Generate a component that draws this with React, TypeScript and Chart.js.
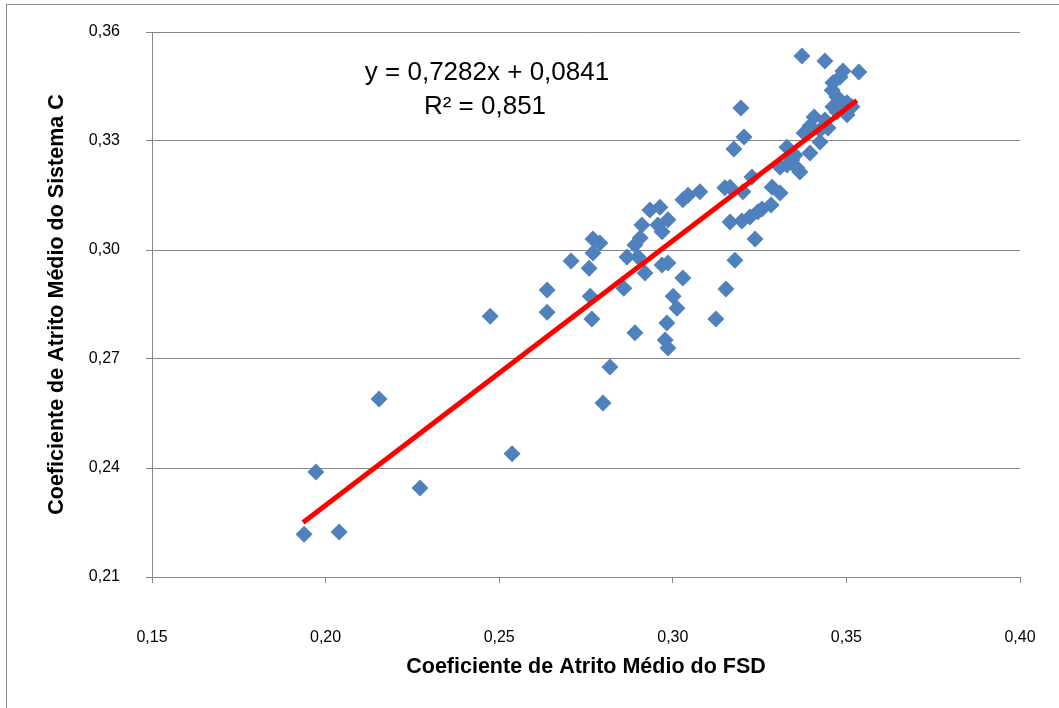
import React, { useEffect, useRef } from "react";
import { Chart, registerables } from "chart.js";

Chart.register(...registerables);

const fsd = [
  0.1938, 0.1972, 0.2039, 0.2154, 0.2272, 0.2474, 0.2537, 0.2638, 0.2638, 0.2707,
  0.2759, 0.277, 0.279, 0.277, 0.2762, 0.2767, 0.2799, 0.2819, 0.2859, 0.2868,
  0.2891, 0.2906, 0.2911, 0.2934, 0.2963, 0.2957, 0.2986, 0.2969, 0.29, 0.292,
  0.2891, 0.2969, 0.2986, 0.3029, 0.3001, 0.3012, 0.2983, 0.2978, 0.2986, 0.3029,
  0.3044, 0.3078, 0.315, 0.3165, 0.3202, 0.3228, 0.3165, 0.3199, 0.3222, 0.3245,
  0.3257, 0.3283, 0.3237, 0.3179, 0.3153, 0.3124, 0.3196, 0.3205, 0.3176, 0.3286,
  0.3309, 0.3329, 0.3343, 0.3358, 0.3329, 0.3366, 0.3309, 0.3352, 0.3378, 0.3395,
  0.3395, 0.3407, 0.3424, 0.3438, 0.3447, 0.3461, 0.3473, 0.3502, 0.3459, 0.3473,
  0.3461, 0.3482, 0.349, 0.3536, 0.3372, 0.3438, 0.3502, 0.3516, 0.3482, 0.3424,
];

const sistemaC = [
  0.2218, 0.2389, 0.2224, 0.259, 0.2345, 0.2818, 0.2439, 0.289, 0.2829, 0.297,
  0.295, 0.303, 0.3019, 0.2992, 0.2873, 0.281, 0.2579, 0.2678, 0.2895, 0.2981,
  0.3014, 0.3033, 0.3069, 0.311, 0.3118, 0.3069, 0.3083, 0.305, 0.2981, 0.2937,
  0.2772, 0.2959, 0.2964, 0.2923, 0.2873, 0.284, 0.2799, 0.2752, 0.273, 0.3138,
  0.3151, 0.316, 0.3171, 0.3173, 0.316, 0.3201, 0.3077, 0.308, 0.3091, 0.3105,
  0.3113, 0.3124, 0.303, 0.2972, 0.2893, 0.281, 0.3391, 0.3311, 0.3278, 0.3173,
  0.3157, 0.3283, 0.3248, 0.3226, 0.3234, 0.3215, 0.3228, 0.3261, 0.3322, 0.3267,
  0.3341, 0.3366, 0.333, 0.3358, 0.3336, 0.3394, 0.338, 0.3372, 0.344, 0.3421,
  0.346, 0.3476, 0.3493, 0.349, 0.3534, 0.352, 0.3405, 0.3394, 0.3407, 0.3297,
];

const trendSlope = 0.7282;
const trendIntercept = 0.0841;
const trendRange = [0.1935, 0.353];
const equationLines = ["y = 0,7282x + 0,0841", "R² = 0,851"];
const xTitle = "Coeficiente de Atrito Médio do FSD";
const yTitle = "Coeficiente de Atrito Médio do Sistema C";

const FONT = "'Liberation Sans', Arial, sans-serif";
const GRID = "#868686";

const fmt = (v: number) => Number(v).toFixed(2).replace(".", ",");

export default function App() {
  const ref = useRef<HTMLCanvasElement | null>(null);

  useEffect(() => {
    if (!ref.current) return;
    const points = fsd.map((x, i) => ({ x, y: sistemaC[i] }));
    const trend = trendRange.map((x) => ({ x, y: trendSlope * x + trendIntercept }));

    const equationPlugin = {
      id: "equation",
      afterDatasetsDraw(chart: any) {
        const { ctx } = chart;
        ctx.save();
        ctx.fillStyle = "#000";
        ctx.font = `26px ${FONT}`;
        ctx.textAlign = "center";
        ctx.textBaseline = "middle";
        ctx.fillText(equationLines[0], 487, 73);
        ctx.fillText(equationLines[1], 485, 107);
        ctx.restore();
      },
    };

    const chart = new Chart(ref.current, {
      type: "scatter",
      data: {
        datasets: [
          {
            type: "line",
            data: trend,
            borderColor: "#FF0000",
            borderWidth: 5,
            pointRadius: 0,
            fill: false,
            order: 0,
          } as any,
          {
            data: points,
            backgroundColor: "#4F81BD",
            borderColor: "#4F81BD",
            borderWidth: 0,
            pointStyle: "rectRot",
            pointRadius: 8.5,
            order: 1,
          },
        ],
      },
      options: {
        animation: false,
        responsive: false,
        devicePixelRatio: 1,
        layout: { padding: { left: 43, right: 39, top: 32, bottom: 28 } },
        plugins: { legend: { display: false }, tooltip: { enabled: false } },
        scales: {
          x: {
            type: "linear",
            min: 0.15,
            max: 0.4,
            ticks: {
              stepSize: 0.05,
              callback: (v: any) => fmt(v),
              font: { family: FONT, size: 16 },
              color: "#000",
              padding: 45,
              maxRotation: 0,
            },
            grid: { drawOnChartArea: false, drawTicks: true, tickLength: 6, tickColor: GRID },
            border: { color: GRID },
            title: {
              display: true,
              text: xTitle,
              font: { family: FONT, size: 21.5, weight: "bold" },
              color: "#000",
              padding: { top: 0, bottom: 0 },
            },
            afterFit: (s: any) => {
              s.height = 103;
              s.paddingLeft = 0;
              s.paddingRight = 0;
            },
          },
          y: {
            type: "linear",
            min: 0.21,
            max: 0.36,
            ticks: {
              stepSize: 0.03,
              callback: (v: any) => fmt(v),
              font: { family: FONT, size: 16 },
              color: "#000",
              padding: 26,
            },
            grid: { color: GRID, lineWidth: 1, tickLength: 6, tickColor: GRID },
            border: { color: GRID },
            title: {
              display: true,
              text: yTitle,
              font: { family: FONT, size: 21.5, weight: "bold" },
              color: "#000",
              padding: { top: 1, bottom: 0 },
            },
            afterFit: (s: any) => {
              s.width = 109;
              s.paddingTop = 0;
              s.paddingBottom = 0;
            },
          },
        },
      },
      plugins: [equationPlugin],
    } as any);

    return () => chart.destroy();
  }, []);

  return (
    <div
      style={{
        position: "fixed",
        left: 0,
        top: 0,
        width: 1059,
        height: 708,
        background: "#fff",
        overflow: "hidden",
      }}
    >
      <div
        style={{
          position: "absolute",
          left: 6,
          top: 4,
          width: 1200,
          height: 900,
          borderTop: "1px solid #8c8c8c",
          borderLeft: "1px solid #8c8c8c",
        }}
      />
      <canvas
        ref={ref}
        width={1059}
        height={708}
        style={{ position: "absolute", left: 0, top: 0, width: 1059, height: 708 }}
      />
    </div>
  );
}
